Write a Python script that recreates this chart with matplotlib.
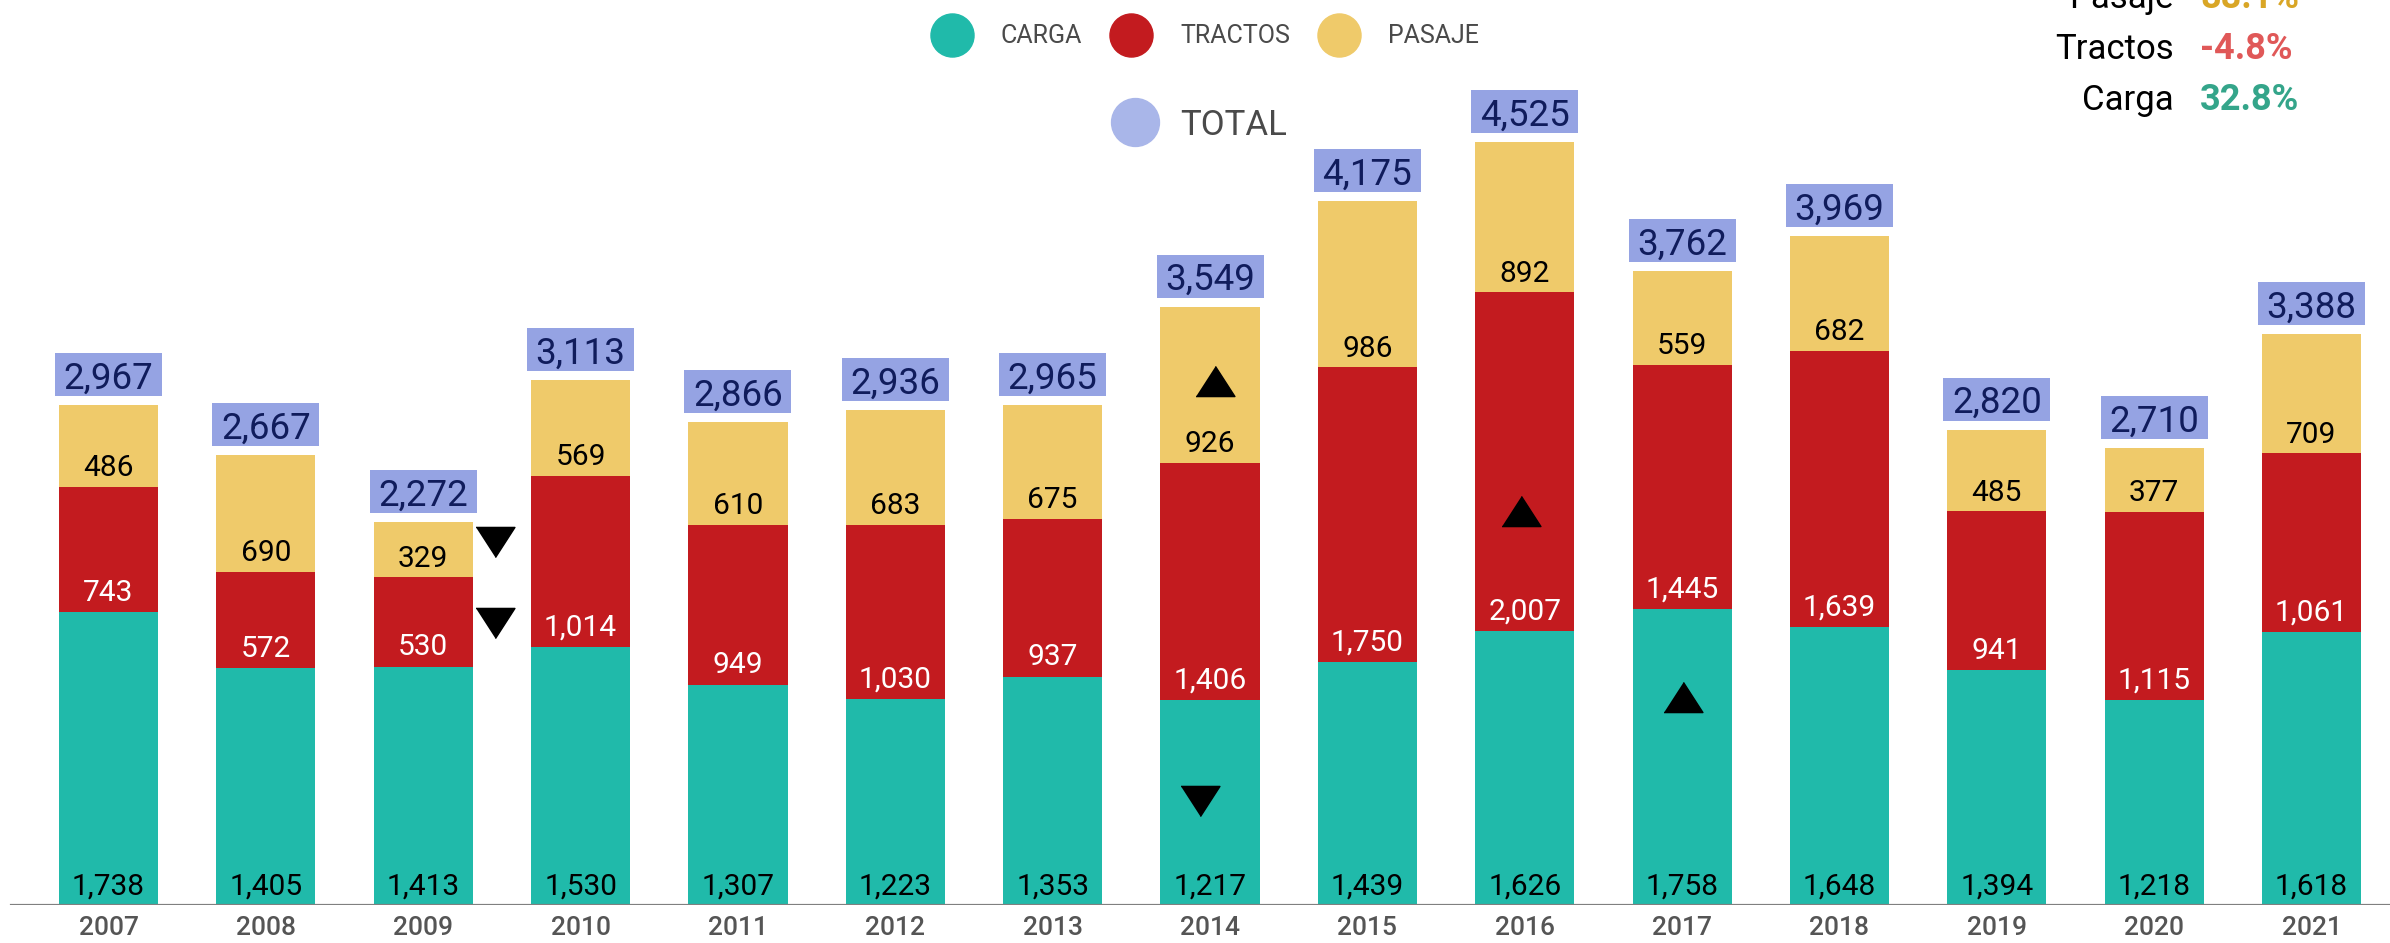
import matplotlib
matplotlib.use('Agg')
import matplotlib.pyplot as plt
from matplotlib.patches import Rectangle

plt.rcParams['font.family'] = ['Roboto', 'DejaVu Sans']

# data
years = ['2007', '2008', '2009', '2010', '2011', '2012', '2013', '2014',
         '2015', '2016', '2017', '2018', '2019', '2020', '2021']
carga = [1738, 1405, 1413, 1530, 1307, 1223, 1353, 1217, 1439, 1626, 1758, 1648, 1394, 1218, 1618]
tractos = [743, 572, 530, 1014, 949, 1030, 937, 1406, 1750, 2007, 1445, 1639, 941, 1115, 1061]
pasaje = [486, 690, 329, 569, 610, 683, 675, 926, 986, 892, 559, 682, 485, 377, 709]
totales = [2967, 2667, 2272, 3113, 2866, 2936, 2965, 3549, 4175, 4525, 3762, 3969, 2820, 2710, 3388]

# up / down arrows drawn on the chart (x in bar index, y in units)
flechas_x = [2.456, 2.456, 7.03, 6.938, 8.976, 10.006]
flechas_y = [2153, 1673, 3108, 617, 2337, 1234]
flechas_dir = ['v', 'v', '^', 'v', '^', '^']

variacion_nombres = ['Pasaje', 'Tractos', 'Carga']
variacion_valores = ['88.1%', '-4.8%', '32.8%']

col_carga = '#20BAAA'
col_tractos = '#C31B1F'
col_pasaje = '#EFCA6A'
col_box = '#95A3E3'
col_boxtxt = '#101C5C'
col_var = ['#D9A626', '#E05858', '#34A58A']

W, H = 2390, 943
fig = plt.figure(figsize=(W / 100, H / 100), dpi=100)
base_px = 38
ax = fig.add_axes([0, base_px / H, 1, (H - base_px) / H])

pitch = 157.36
x0 = 108.5
ax.set_xlim(-x0 / pitch, (W - x0) / pitch)
ax.set_ylim(0, (H - base_px) / 0.1686)

x = list(range(len(years)))
bw = 0.63
ax.bar(x, carga, width=bw, color=col_carga, zorder=2)
bot2 = carga
ax.bar(x, tractos, width=bw, bottom=bot2, color=col_tractos, zorder=2)
bot3 = [c + t for c, t in zip(carga, tractos)]
ax.bar(x, pasaje, width=bw, bottom=bot3, color=col_pasaje, zorder=2)

lab_kw = dict(textcoords='offset points', ha='center', va='center',
              fontsize=21.5, zorder=4)
for i in x:
    ax.annotate(f'{carga[i]:,}', xy=(i, 0), xytext=(0, 13.5), color='black', **lab_kw)
    ax.annotate(f'{tractos[i]:,}', xy=(i, bot2[i]), xytext=(0, 14), color='white', **lab_kw)
    ax.annotate(f'{pasaje[i]:,}', xy=(i, bot3[i]), xytext=(0, 13.5), color='black', **lab_kw)

    # total box above the bar
    bw_box = 0.68
    gap = 9 / 0.1686
    bh = 43 / 0.1686
    ax.add_patch(Rectangle((i - bw_box / 2, totales[i] + gap), bw_box, bh,
                           facecolor=col_box, edgecolor='none', zorder=3, clip_on=False))
    ax.text(i, totales[i] + gap + bh / 2, f'{totales[i]:,}', ha='center', va='center_baseline',
            fontsize=26.5, color=col_boxtxt, zorder=4)

for fx, fy, d in zip(flechas_x, flechas_y, flechas_dir):
    if d == '^':
        verts = [(-1, -0.775), (1, -0.775), (0, 0.775)]
    else:
        verts = [(-1, 0.775), (1, 0.775), (0, -0.775)]
    ax.plot(fx, fy, marker=verts, ms=28, color='black', ls='none', zorder=5)

ax.axhline(0, xmin=11 / W, xmax=1, color='#808080', lw=2.3, zorder=3)
for s in ax.spines.values():
    s.set_visible(False)
ax.set_yticks([])
ax.set_xticks(x)
ax.set_xticklabels(years, fontsize=19, color='#555555', fontweight='medium')
ax.tick_params(axis='x', length=0, pad=8)

# legend
def fx_(px):
    return px / W

def fy_(py):
    return 1 - py / H

leg = [(952, 1000, 'CARGA', col_carga), (1131, 1180, 'TRACTOS', col_tractos),
       (1339, 1388, 'PASAJE', col_pasaje)]
for cx, tx, name, c in leg:
    ax.plot(fx_(cx), fy_(35), 'o', ms=31, color=c, transform=fig.transFigure, clip_on=False)
    fig.text(fx_(tx), fy_(43), name, fontsize=18, color='#4a4a4a', va='baseline', ha='left')
ax.plot(fx_(1135), fy_(122), 'o', ms=34.5, color='#A9B6E9', transform=fig.transFigure, clip_on=False)
fig.text(fx_(1180), fy_(135), 'TOTAL', fontsize=25, color='#4a4a4a', va='baseline', ha='left')

# variation text top right
for k, (n, v) in enumerate(zip(variacion_nombres, variacion_valores)):
    yb = 8 + 51 * k
    fig.text(fx_(2174), fy_(yb), n, fontsize=25, color='black', ha='right', va='baseline')
    fig.text(fx_(2200), fy_(yb), v, fontsize=26, color=col_var[k], ha='left', va='baseline',
             fontweight='bold')

fig.savefig('out.png', dpi=100)
